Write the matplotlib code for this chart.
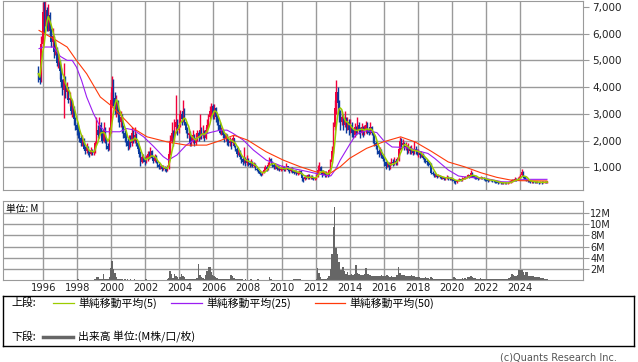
import numpy as np
import pandas as pd
import matplotlib
matplotlib.use("Agg")
import matplotlib.pyplot as plt

# monthly candles, Sep 1995 - Aug 2025 (open = previous close)
start = "1995-09"
first_open = 4750
close = [
    4500, 4250, 5600, 6800,
    6500, 6900, 6300, 6700, 6100, 5700, 5900, 5300, 5500, 4900, 5000, 4600,
    4200, 3900, 4300, 3800, 4000, 3500, 3600, 3100, 3300, 2800, 2600, 2400,
    2300, 2100, 1900, 2000, 1700, 1600, 1750, 1550, 1500, 1650, 1550, 1600,
    1900, 2400, 2200, 2600, 2300, 2000, 2400, 2000, 1800, 1700, 2400, 3500,
    4000, 3600, 3200, 3400, 3000, 2700, 2900, 2500, 2300, 2100, 2000, 1800,
    2100, 1900, 2300, 2000, 2200, 1900, 1700, 1500, 1200, 1400, 1300, 1200,
    1300, 1500, 1400, 1600, 1350, 1250, 1400, 1200, 1100, 1000, 1050, 950,
    1000, 950, 900, 1000, 1500, 2000, 2300, 2100, 2500, 2700, 2400, 2600,
    3000, 2800, 3100, 2700, 2400, 2200, 2300, 1900, 2000, 2200, 1900, 2100,
    2300, 2100, 2400, 2200, 2300, 2100, 2400, 2600, 2900, 3100, 3300, 3000,
    3200, 2900, 2800, 2600, 2300, 2400, 2200, 2100, 2200, 2000, 1900, 2000,
    1900, 2100, 1800, 1700, 1500, 1600, 1400, 1300, 1200, 1350, 1150, 1300,
    1150, 1100, 1200, 1050, 1100, 950, 900, 850, 750, 700, 800, 900,
    1000, 950, 1100, 1300, 1200, 1100, 1000, 1050, 950, 1000, 900, 950,
    1000, 900, 950, 1050, 900, 850, 950, 850, 800, 850, 750, 800,
    850, 750, 600, 550, 650, 600, 700, 600, 650, 600, 550, 600,
    700, 900, 1000, 850, 750, 800, 700, 750, 700, 900, 1200, 1600,
    2500, 3200, 3800, 3400, 3000, 2700, 2900, 2600, 2800, 2500, 2700, 2400,
    2600, 2300, 2200, 2500, 2300, 2600, 2400, 2300, 2500, 2300, 2400, 2600,
    2400, 2300, 2500, 2300, 2200, 1900, 1800, 1600, 1500, 1600, 1450, 1300,
    1200, 1050, 1150, 1000, 1100, 1200, 1150, 1250, 1150, 1300, 1700, 2000,
    1850, 1900, 1750, 1800, 1650, 1700, 1600, 1650, 1550, 1700, 1600, 1550,
    1550, 1450, 1500, 1350, 1300, 1250, 1200, 1150, 1100, 800, 750, 700,
    700, 650, 700, 650, 600, 620, 580, 600, 650, 600, 550, 580,
    550, 480, 450, 500, 520, 550, 520, 580, 600, 620, 650, 700,
    650, 800, 700, 650, 620, 600, 580, 600, 620, 580, 560, 550,
    520, 500, 540, 520, 500, 480, 460, 450, 420, 430, 410, 420,
    410, 420, 400, 420, 440, 470, 520, 500, 560, 540, 580, 600,
    700, 820, 650, 560, 520, 500, 480, 450, 470, 460, 440, 450,
    430, 420, 460, 420, 440, 460, 450, 470,
]
high = [
    4800, 4500, 5900, 7200,
    7300, 7300, 7000, 7100, 6800, 6200, 6200, 5900, 5800, 5500, 5300, 5000,
    4700, 4300, 4900, 4400, 4200, 4000, 3800, 3600, 3500, 3300, 2900, 2700,
    2600, 2400, 2200, 2200, 2100, 1800, 1900, 1800, 1600, 1750, 1700, 1700,
    2000, 2900, 2600, 2900, 2700, 2400, 2700, 2500, 2100, 1900, 2500, 3800,
    4400, 4300, 3800, 3700, 3500, 3100, 3100, 3000, 2600, 2400, 2300, 2100,
    2200, 2200, 2500, 2400, 2500, 2300, 2000, 1800, 1600, 1500, 1500, 1400,
    1450, 1600, 1600, 1750, 1650, 1400, 1500, 1450, 1250, 1150, 1100, 1100,
    1100, 1050, 1000, 1100, 1600, 2200, 2700, 2400, 2800, 3700, 2800, 2800,
    3150, 3100, 3500, 3200, 2750, 2500, 2450, 2350, 2200, 2400, 2250, 2300,
    2400, 2350, 3000, 2500, 2600, 2400, 2500, 2800, 3000, 3300, 3400, 3350,
    3350, 3250, 3000, 2900, 2700, 2500, 2450, 2300, 2300, 2250, 2100, 2150,
    2050, 2200, 2100, 1850, 1750, 1700, 1650, 1450, 1350, 1770, 1400, 1450,
    1350, 1250, 1300, 1250, 1200, 1150, 1000, 950, 900, 800, 850, 950,
    1100, 1050, 1200, 1400, 1350, 1250, 1150, 1150, 1100, 1100, 1050, 1000,
    1100, 1050, 1000, 1150, 1050, 950, 1000, 1000, 900, 900, 900, 850,
    900, 900, 800, 650, 700, 700, 750, 750, 700, 700, 650, 650,
    750, 1100, 1200, 1050, 900, 900, 850, 850, 800, 950, 1300, 1800,
    2700, 3500, 4250, 4000, 3500, 3150, 3100, 3000, 3100, 2900, 2900, 2800,
    2800, 2700, 2450, 2650, 2550, 2900, 2700, 2500, 2650, 2550, 2600, 2750,
    2700, 2500, 2700, 2550, 2350, 2250, 2000, 1850, 1700, 1750, 1700, 1500,
    1350, 1250, 1250, 1200, 1200, 1350, 1300, 1400, 1300, 1400, 1800, 2150,
    2100, 2050, 1950, 1950, 1850, 1900, 1800, 1850, 1700, 2000, 1800, 1700,
    1700, 1600, 1600, 1550, 1400, 1350, 1300, 1250, 1200, 1150, 850, 800,
    780, 720, 750, 720, 680, 680, 650, 650, 700, 680, 620, 620,
    600, 580, 520, 540, 570, 600, 580, 620, 650, 680, 700, 760,
    720, 900, 820, 720, 680, 660, 640, 650, 660, 650, 620, 600,
    580, 560, 580, 570, 540, 520, 500, 490, 470, 460, 450, 450,
    440, 450, 440, 450, 480, 520, 560, 560, 620, 600, 640, 660,
    760, 930, 850, 680, 600, 560, 540, 520, 500, 500, 480, 480,
    470, 460, 480, 470, 470, 490, 480, 500,
]
low = [
    4200, 4100, 4200, 5500,
    6000, 6300, 6100, 6100, 5900, 5500, 5500, 5100, 5200, 4800, 4700, 4300,
    4000, 3700, 2850, 3600, 3600, 3400, 3300, 3000, 2900, 2600, 2400, 2200,
    2100, 1950, 1800, 1800, 1650, 1500, 1550, 1450, 1400, 1450, 1450, 1450,
    1550, 1850, 2100, 2100, 2200, 1900, 1950, 1900, 1700, 1600, 1650, 2300,
    3300, 3300, 3000, 2900, 2700, 2500, 2500, 2300, 2100, 1950, 1800, 1650,
    1700, 1750, 1800, 1900, 1900, 1800, 1600, 1400, 1050, 1150, 1200, 1100,
    1150, 1250, 1300, 1350, 1300, 1150, 1200, 1150, 1000, 950, 950, 880,
    900, 870, 840, 880, 950, 1450, 1900, 1800, 2000, 2300, 2200, 2300,
    2500, 2600, 2700, 2600, 2300, 2100, 2100, 1800, 1800, 1900, 1800, 1850,
    2000, 2000, 2050, 2050, 2100, 2000, 2050, 2300, 2500, 2800, 2900, 2800,
    2800, 2700, 2600, 2400, 2250, 2200, 2100, 1950, 2000, 1850, 1800, 1800,
    1700, 1850, 1750, 1600, 1400, 1450, 1300, 1150, 1100, 1150, 1050, 1100,
    1050, 1000, 1050, 1000, 1000, 900, 850, 780, 700, 680, 700, 780,
    900, 880, 900, 1050, 1100, 1000, 950, 950, 900, 900, 850, 850,
    900, 850, 850, 950, 850, 800, 820, 800, 750, 770, 700, 720,
    750, 700, 500, 460, 520, 550, 580, 550, 550, 550, 520, 530,
    580, 650, 850, 750, 650, 700, 650, 650, 620, 680, 850, 1150,
    1550, 2400, 3000, 3000, 2700, 2400, 2600, 2400, 2500, 2300, 2400, 2200,
    2300, 2150, 2100, 2150, 2200, 2250, 2250, 2100, 2200, 2150, 2200, 2300,
    2250, 2200, 2250, 2200, 1900, 1800, 1700, 1500, 1400, 1450, 1350, 1250,
    1050, 950, 1000, 900, 950, 1080, 1050, 1100, 1080, 1100, 1250, 1650,
    1700, 1750, 1650, 1650, 1500, 1550, 1500, 1500, 1450, 1500, 1500, 1450,
    1400, 1350, 1400, 1300, 1200, 1150, 1100, 1050, 1000, 750, 700, 650,
    620, 600, 620, 600, 560, 560, 530, 540, 580, 540, 520, 530,
    500, 430, 390, 420, 470, 500, 480, 500, 550, 570, 600, 620,
    600, 630, 650, 600, 580, 560, 540, 560, 570, 550, 520, 500,
    470, 460, 480, 480, 460, 440, 430, 420, 380, 400, 380, 390,
    380, 390, 370, 390, 410, 430, 460, 470, 490, 500, 520, 550,
    580, 680, 600, 520, 480, 460, 440, 400, 430, 420, 410, 420,
    400, 390, 410, 380, 400, 420, 420, 430,
]
# volume, millions
volume = [
    0.05, 0.05, 0.1, 0.1,
    0.08, 0.08, 0.08, 0.08, 0.08, 0.08, 0.08, 0.08, 0.08, 0.08, 0.08, 0.08,
    0.1, 0.1, 0.1, 0.1, 0.1, 0.1, 0.1, 0.1, 0.1, 0.1, 0.1, 0.1,
    0.3, 0.1, 0.1, 0.1, 0.1, 0.1, 0.1, 0.1, 0.1, 0.1, 0.1, 0.1,
    0.2, 0.5, 0.5, 0.3, 0.3, 0.2, 1.2, 0.3, 0.2, 0.2, 0.6, 2.1,
    3.4, 2.0, 1.3, 0.6, 0.3, 0.2, 0.2, 0.2, 0.1, 0.2, 0.1, 0.2,
    0.1, 0.2, 0.1, 0.1, 0.3, 0.1, 0.1, 0.1, 0.1, 0.1, 0.1, 0.1,
    0.2, 0.1, 0.1, 0.1, 0.1, 0.1, 0.1, 0.1, 0.1, 0.1, 0.1, 0.1,
    0.1, 0.1, 0.1, 0.2, 0.4, 1.7, 1.2, 0.4, 1.1, 0.7, 0.5, 0.3,
    0.6, 1.1, 0.8, 0.5, 0.3, 0.2, 0.2, 0.2, 0.3, 0.2, 0.2, 0.3,
    0.4, 2.9, 1.0, 0.5, 0.4, 0.3, 1.0, 1.6, 2.4, 2.3, 1.5, 1.0,
    0.8, 0.6, 0.4, 0.3, 0.3, 0.2, 0.2, 0.2, 0.2, 0.2, 0.2, 0.2,
    0.9, 0.7, 0.4, 0.3, 0.2, 0.2, 0.2, 0.2, 0.2, 0.1, 0.3, 0.1,
    0.1, 0.1, 0.2, 0.1, 0.1, 0.1, 0.1, 0.2, 0.1, 0.1, 0.1, 0.1,
    0.1, 0.1, 0.1, 0.5, 0.2, 0.1, 0.1, 0.1, 0.1, 0.1, 0.1, 0.1,
    0.1, 0.1, 0.1, 0.1, 0.1, 0.1, 0.1, 0.1, 0.3, 0.3, 0.2, 0.3,
    0.2, 0.2, 0.1, 0.1, 0.1, 0.1, 0.1, 0.1, 0.1, 0.1, 0.1, 0.1,
    0.3, 2.1, 1.3, 0.5, 0.3, 0.2, 0.2, 0.3, 0.4, 0.8, 2.0, 4.6,
    9.5, 13.1, 5.7, 4.6, 3.3, 1.8, 1.8, 2.4, 1.6, 1.2, 1.4, 1.0,
    0.9, 1.2, 1.0, 1.2, 2.7, 1.3, 1.2, 0.9, 1.0, 0.9, 1.1, 2.2,
    1.2, 1.2, 1.0, 0.8, 0.8, 0.8, 0.8, 0.8, 0.7, 0.8, 0.9, 0.8,
    0.7, 0.8, 0.9, 0.7, 0.6, 0.7, 0.6, 0.6, 0.5, 0.9, 2.4, 1.3,
    1.0, 0.9, 0.9, 0.8, 0.8, 0.8, 0.8, 0.9, 0.7, 0.8, 0.6, 0.5,
    0.5, 0.5, 0.4, 0.4, 0.4, 0.5, 0.4, 0.4, 0.3, 0.6, 0.4, 0.3,
    0.3, 0.3, 0.3, 0.3, 0.3, 0.3, 0.3, 0.3, 0.3, 0.3, 0.3, 0.3,
    0.3, 0.5, 0.4, 0.3, 0.3, 0.3, 0.3, 0.4, 0.3, 0.4, 0.3, 0.5,
    0.6, 0.8, 0.5, 0.4, 0.4, 0.3, 0.3, 0.3, 0.4, 0.3, 0.3, 0.3,
    0.3, 0.3, 0.3, 0.3, 0.3, 0.3, 0.3, 0.3, 0.3, 0.3, 0.3, 0.3,
    0.3, 0.3, 0.3, 0.3, 0.4, 0.6, 1.2, 0.9, 0.8, 0.8, 1.0, 1.8,
    1.8, 1.8, 1.5, 1.0, 1.5, 1.4, 0.8, 0.7, 0.7, 0.7, 0.6, 0.6,
    0.5, 0.5, 0.4, 0.4, 0.4, 0.3, 0.3, 0.3,
]

# moving averages (decimal year, price)
ma25_t = [1995.75, 1996.0, 1996.6, 1997.0, 1997.4, 1997.7, 1997.95, 1998.25, 1998.55,
          1998.95, 1999.35, 1999.7, 2000.5, 2000.9, 2001.3, 2001.9, 2002.5, 2003.05,
          2003.35, 2003.85, 2004.4, 2005.2, 2005.8, 2006.4, 2006.8, 2007.15, 2007.75,
          2008.35, 2009.1, 2010.1, 2011.1, 2012.0, 2012.6, 2012.9, 2013.2, 2013.45,
          2014.0, 2014.4, 2015.0, 2015.6, 2016.0, 2016.5, 2017.0, 2017.6, 2018.1,
          2018.6, 2019.0, 2019.8, 2020.4, 2020.95, 2021.95, 2022.95, 2023.5, 2023.9,
          2024.5, 2025.6]
ma25_v = [5440, 5500, 5500, 5150, 5000, 5000, 4750, 4250, 3630,
          3010, 2510, 2330, 2330, 2450, 2400, 2140, 1770, 1400,
          1270, 1460, 1830, 2170, 2300, 2390, 2390, 2270, 2020,
          1645, 1270, 1020, 900, 775, 700, 680, 950, 1270,
          1850, 2250, 2370, 2300, 2000, 1760, 1750, 1710, 1600,
          1520, 1335, 900, 675, 625, 590, 460, 450, 525,
          550, 550]
ma50_t = [1995.75, 1996.6, 1997.4, 1997.95, 1998.55, 1999.35, 2000.0, 2000.5, 2001.3,
          2002.1, 2003.25, 2004.4, 2005.6, 2006.4, 2007.2, 2008.0, 2009.1, 2010.1,
          2011.1, 2012.0, 2012.85, 2013.45, 2014.0, 2015.0, 2016.0, 2017.0, 2017.85,
          2018.8, 2019.8, 2020.75, 2021.7, 2022.65, 2023.45, 2024.0, 2025.6]
ma50_v = [6120, 5810, 5500, 5000, 4500, 3630, 3300, 2980, 2450,
          2140, 1955, 1830, 1830, 2000, 2200, 2020, 1580, 1270,
          1020, 835, 775, 1020, 1335, 1710, 1955, 2140, 1950,
          1600, 1200, 1020, 800, 625, 525, 500, 490]

price_ticks = [1000, 2000, 3000, 4000, 5000, 6000, 7000]
year_ticks = list(range(1996, 2025, 2))
vol_ticks = [2, 4, 6, 8, 10, 12]

assert len(close) == len(high) == len(low) == len(volume)

dates = pd.date_range(start, periods=len(close), freq="MS")
t = np.asarray(dates.year + (dates.month - 1) / 12 + 1 / 24)
c = np.array(close, float)
o = np.r_[first_open, c[:-1]]
h = np.array(high, float)
l = np.array(low, float)
up = c >= o
ma5 = pd.Series(c).rolling(5, min_periods=1).mean()

RED, BLUE = "#f2003c", "#0b3b9e"
GRID = "#9a9a9a"
JP = ["Noto Sans CJK JP", "DejaVu Sans"]

W, H = 638, 362
fig = plt.figure(figsize=(W / 100, H / 100), dpi=100)

ax = fig.add_axes([3.3 / W, 1 - 190.3 / H, 579.4 / W, 189.8 / H])
ax.set_xlim(1993.65, 2027.7)
ax.set_ylim(140, 7240)
ax.set_xticks(year_ticks)
ax.set_yticks(price_ticks)
ax.set_yticklabels(["{:,}".format(v) for v in price_ticks])
ax.yaxis.tick_right()
ax.tick_params(axis="x", length=0, labelbottom=False)
ax.tick_params(axis="y", length=4, width=0.8, color=GRID, pad=3, labelsize=7.5, labelcolor="#222222")
ax.grid(True, color=GRID, lw=1)
ax.set_axisbelow(True)
ax.get_ygridlines()[-1].set_visible(False)
for s in ax.spines.values():
    s.set_color(GRID)

w = 1.0 / 12
for mask, col in [(up, RED), (~up, BLUE)]:
    ax.vlines(t[mask], l[mask], h[mask], color=col, lw=1.0)
    ax.bar(t[mask], (c - o)[mask], bottom=o[mask], width=w, color=col, lw=0)
ax.plot(ma25_t, ma25_v, color="#9b1df2", lw=0.8)
ax.plot(ma50_t, ma50_v, color="#ff3a0a", lw=0.8)
ax.plot(t, ma5, color="#9ccc00", lw=1.1)

# volume panel
ax2 = fig.add_axes([3.3 / W, 1 - 280.3 / H, 579.4 / W, 79.3 / H])
ax2.set_xlim(1993.65, 2027.7)
ax2.set_ylim(0, 14.08)
ax2.bar(t, volume, width=1 / 12, color="#666666", lw=0)
ax2.set_xticks(year_ticks)
ax2.set_yticks(vol_ticks)
ax2.set_yticklabels(["{}M".format(v) for v in vol_ticks])
ax2.yaxis.tick_right()
ax2.tick_params(axis="x", length=0, pad=2, labelsize=7.2, labelcolor="#222222")
ax2.tick_params(axis="y", length=4, width=0.8, color=GRID, pad=1.5, labelsize=7, labelcolor="#222222")
ax2.grid(True, color=GRID, lw=1)
ax2.set_axisbelow(True)
for s in ax2.spines.values():
    s.set_color(GRID)
ax2.text(0.004, 0.9, "単位: M", transform=ax2.transAxes, fontsize=7, family=JP, va="center")

# legend box
lg = fig.add_axes([3 / W, 1 - 346 / H, 631 / W, 50 / H])
lg.set_xlim(0, 631)
lg.set_ylim(50, 0)
lg.set_xticks([])
lg.set_yticks([])
for s in lg.spines.values():
    s.set_color("black")
    s.set_linewidth(1)
lg.text(8, 7, "上段:", family=JP, fontsize=7.8, va="center")
items = [(50, 71, "#9ccc00", "単純移動平均(5)"),
         (168, 199, "#9b1df2", "単純移動平均(25)"),
         (312, 342, "#ff3a0a", "単純移動平均(50)")]
for x0, x1, col, lab in items:
    lg.plot([x0, x1], [7, 7], color=col, lw=0.9)
    lg.text(x1 + 4.5, 7, lab, family=JP, fontsize=7.8, va="center")
lg.text(8, 40.5, "下段:", family=JP, fontsize=7.8, va="center")
lg.plot([40, 70], [40.5, 40.5], color="#666666", lw=2.5)
lg.text(75.5, 40.5, "出来高 単位:(M株/口/枚)", family=JP, fontsize=7.8, va="center")

fig.text(617 / W, 1 - 357.5 / H, "(c)Quants Research Inc.", ha="right", va="center",
         fontsize=7, color="#555555")

fig.savefig("out.png", dpi=100)
